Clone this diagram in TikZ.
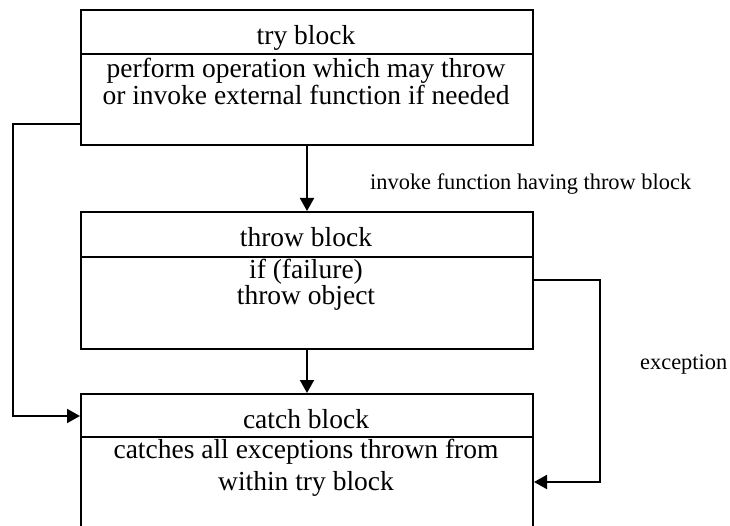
\documentclass[tikz,border=0pt]{standalone}
\usepackage{fontspec}
\setmainfont{Liberation Serif}
\usetikzlibrary{calc,arrows.meta}
\begin{document}
\begin{tikzpicture}[x=1pt,y=-1pt,
  box/.style={draw,line width=2pt,minimum width=452pt,inner sep=0pt,anchor=north west},
  divider/.style={line width=2pt},
  txt/.style={font=\fontsize{27.5}{27.5}\selectfont,anchor=base,inner sep=0pt},
  lbl/.style={font=\fontsize{22.4}{22.4}\selectfont,anchor=base west,inner sep=0pt},
  conn/.style={line width=2pt,-{Triangle[length=13pt,width=14pt]}}]
\useasboundingbox (0,0) rectangle (730,526);
% boxes
\node[box,minimum height=135pt] (try) at (80,9) {};
\node[box,minimum height=137pt] (throw) at (80,211) {};
\node[box,minimum height=200pt] (catch) at (80,393) {};
% dividers
\draw[divider] ($(try.north west)+(0,45)$) -- ($(try.north east)+(0,45)$);
\draw[divider] ($(throw.north west)+(0,46)$) -- ($(throw.north east)+(0,46)$);
\draw[divider] ($(catch.north west)+(0,44)$) -- ($(catch.north east)+(0,44)$);
% texts
\node[txt] (t1) at (306,45) {try block};
\node[txt] (t2) at (306,78) {perform operation which may throw};
\node[txt] (t3) at (306,105) {or invoke external function if needed};
\node[txt] (h1) at (306,247) {throw block};
\node[txt] (h2) at (306,279) {if (failure)};
\node[txt] (h3) at (306,305) {throw object};
\node[txt] (c1) at (306,428) {catch block};
\node[txt] (c2) at (306,458) {catches all exceptions thrown from};
\node[txt] (c3) at (306,490) {within try block};
% labels
\node[lbl] (l1) at (370,190) {invoke function having throw block};
\node[lbl] (l2) at (640,369) {exception};
% connector points
\coordinate (a1) at ($(try.south west)+(0,-22)$);
\coordinate (a2) at ($(catch.north west)+(0,23)$);
\coordinate (b1) at ($(throw.north east)+(0,69)$);
\coordinate (b2) at ($(catch.north east)+(0,89)$);
% connectors
\draw[conn] (try.south) -- (throw.north);
\draw[conn] (throw.south) -- (catch.north);
\draw[conn] (a1) -- (13,0 |- a1) -- (13,0 |- a2) -- (a2);
\draw[conn] (b1) -- (600,0 |- b1) -- (600,0 |- b2) -- (b2);
\end{tikzpicture}
\end{document}
